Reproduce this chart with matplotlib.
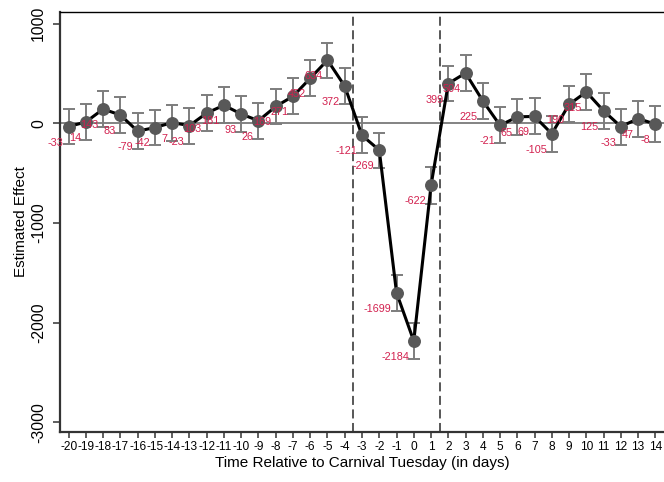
import matplotlib
matplotlib.use( "Agg" )
import matplotlib.pyplot as plt

# --- data --- #

days = list( range( -20, 15 ) )

effects = [ -33, 14, 143, 83, -79, -42, 7, -23, 103, 181,
			93, 26, 169, 271, 452, 634, 372, -121, -269, -1699,
			-2184, -622, 399, 504, 225, -21, 65, 69, -105, 190,
			315, 125, -33, 47, -8 ]

ci_half = [ 178, 180, 180, 180, 183, 180, 180, 180, 180, 180,
			180, 180, 180, 180, 180, 175, 180, 180, 175, 180,
			183, 183, 180, 183, 183, 180, 180, 180, 180, 180,
			178, 180, 180, 180, 180 ]

cut_lines = [ -3.5, 1.5 ]
y_ticks = [ -3000, -2000, -1000, 0, 1000 ]

label_col = "#d2204e"

# --- end of data --- #

def event_plot( output_file ):
	"""! @brief draw the event study coefficients """
	
	plt.rcParams['font.family'] = [ "Liberation Sans", "DejaVu Sans" ]
	fig = plt.figure( figsize=(6.64,4.82), dpi=100 )
	ax = fig.add_axes( [ 0.0904, 0.1044, 0.9096, 0.8706 ] )
	
	ax.axhline( 0, color="#7a7a7a", lw=1.3, zorder=1 )
	for xc in cut_lines:
		ax.axvline( xc, color="#4a4a4a", lw=1.3, ls=(0,(5,2.5)), zorder=1 )
	
	ax.errorbar( days, effects, yerr=ci_half, fmt="none", ecolor="#7d7d7d",
				elinewidth=1.4, capsize=4, capthick=1.4, zorder=2 )
	ax.plot( days, effects, color="black", lw=2.2, zorder=3 )
	ax.plot( days, effects, ls="none", marker="o", ms=8.3, color="#585858", zorder=4 )
	
	for d, v in zip( days, effects ):
		ax.annotate( str( v ), xy=(d, v), xytext=(-3.5, -11.5), textcoords="offset points",
					ha="right", va="center", fontsize=7.8, color=label_col, zorder=5 )
	
	ax.set_xlim( -20.5, 14.5 )
	ax.set_ylim( -3093, 1116 )
	ax.set_xticks( days )
	ax.set_xticklabels( [ str( d ) for d in days ], fontsize=8.6 )
	ax.set_yticks( y_ticks )
	ax.set_yticklabels( [ str( t ) for t in y_ticks ], fontsize=11.3, rotation=90, va="center" )
	ax.tick_params( axis="x", length=4.5, width=1.1, color="#333333", pad=2 )
	ax.tick_params( axis="y", length=5, width=1.1, color="#333333", pad=5 )
	
	ax.spines['right'].set_visible( False )
	ax.spines['top'].set_linewidth( 1.0 )
	ax.spines['top'].set_color( "black" )
	for side in [ 'left', 'bottom' ]:
		ax.spines[side].set_linewidth( 1.6 )
		ax.spines[side].set_color( "#333333" )
	
	ax.set_xlabel( "Time Relative to Carnival Tuesday (in days)", fontsize=11, labelpad=2.5 )
	ax.set_ylabel( "Estimated Effect", fontsize=11, labelpad=2 )
	
	fig.savefig( output_file, dpi=100 )


event_plot( "out.png" )
